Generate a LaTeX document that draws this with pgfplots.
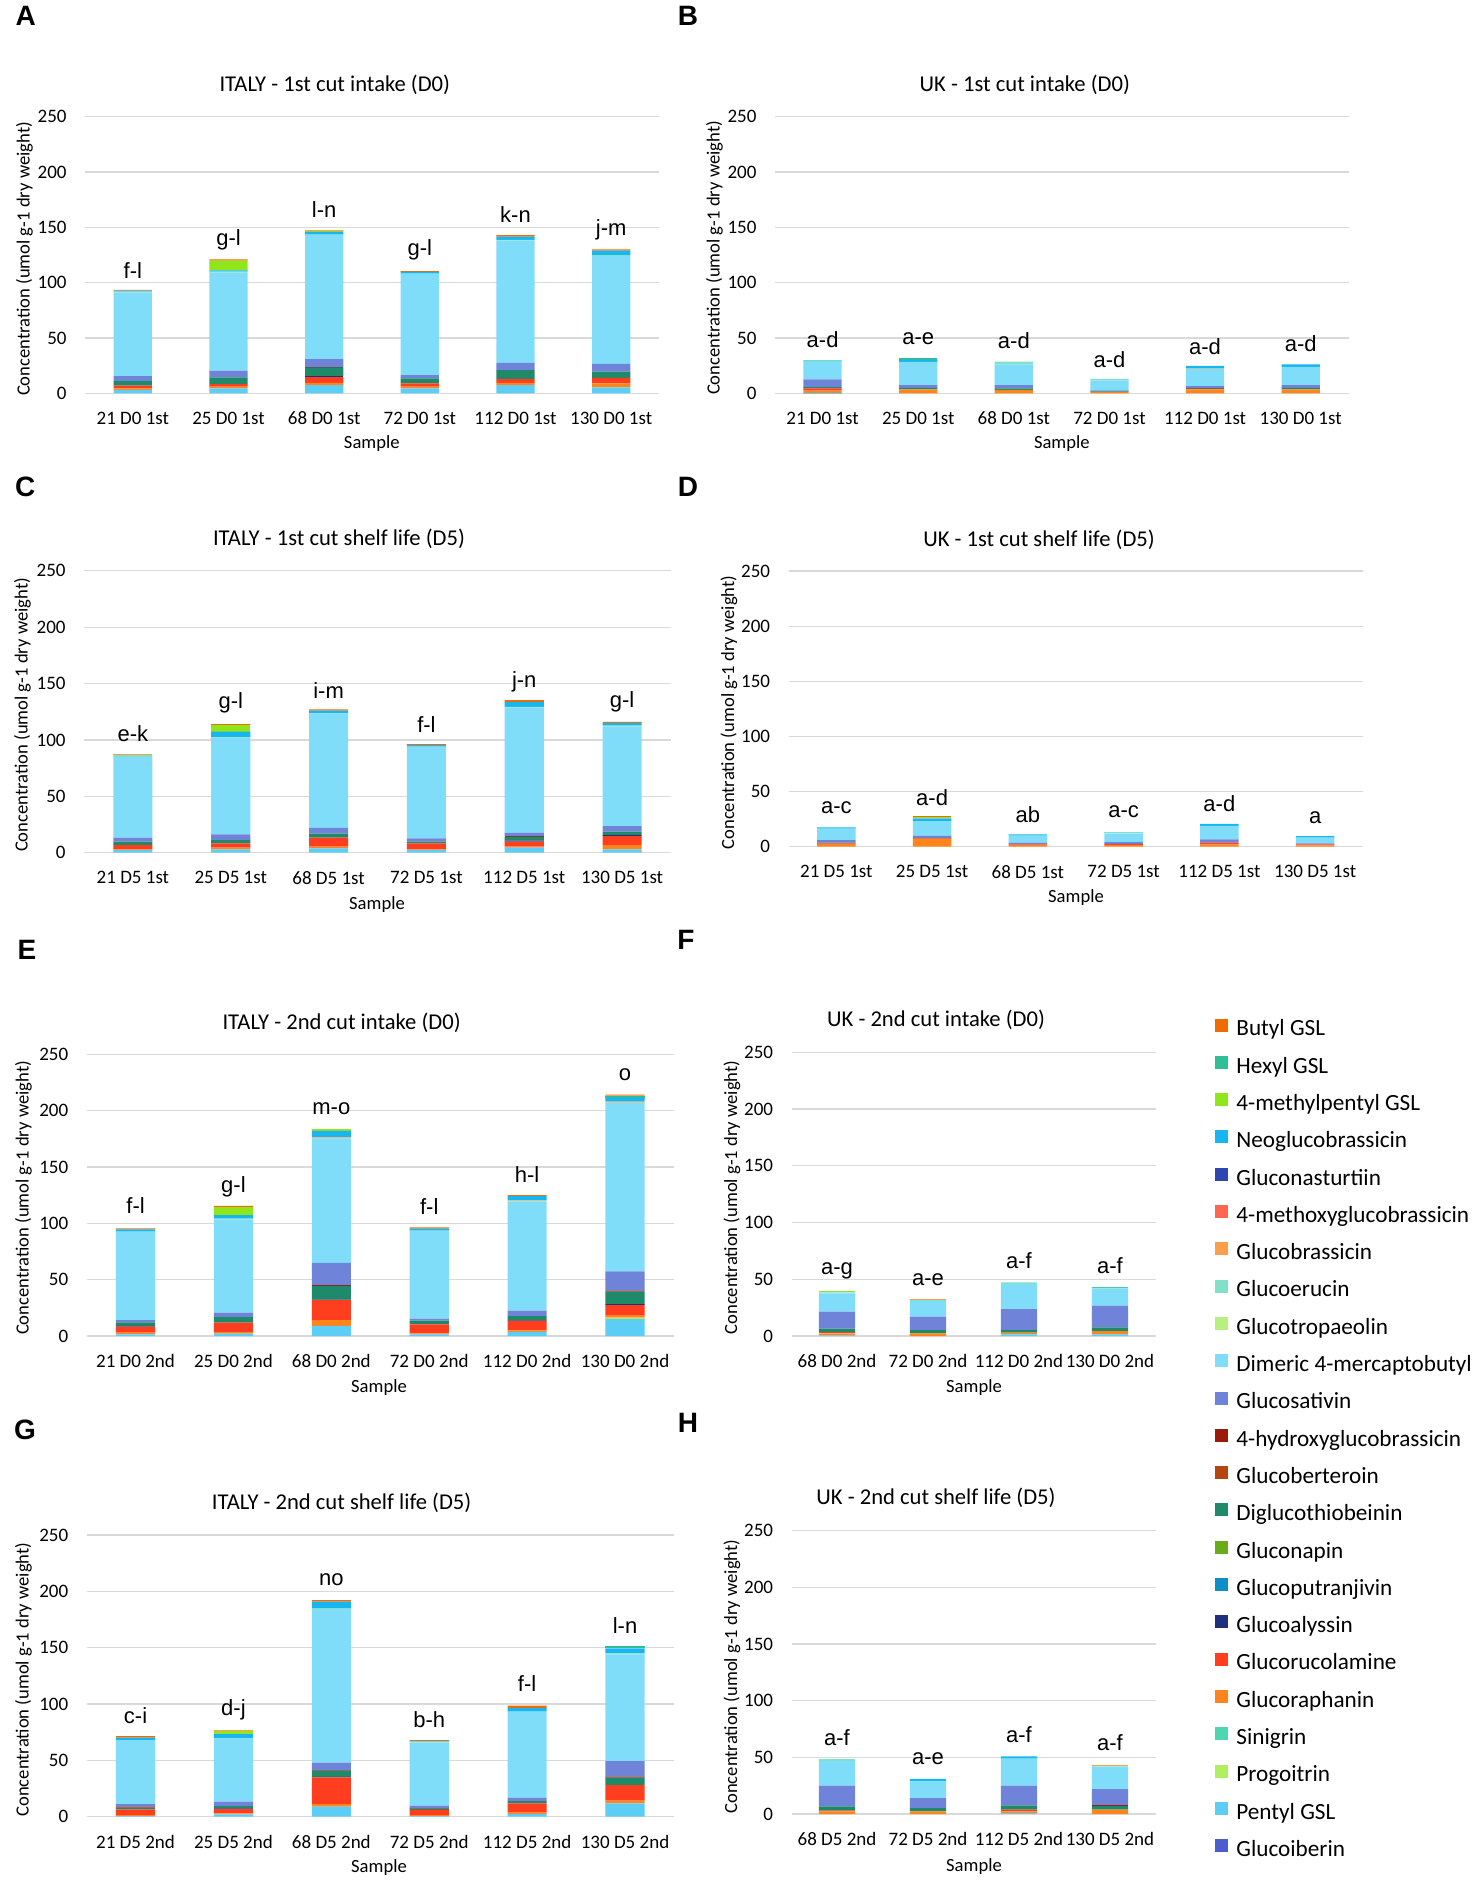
\documentclass[border=0pt]{standalone}
\usepackage{fontspec}
\setmainfont{Carlito}
\newfontfamily\arial{Liberation Sans}
\usepackage{pgfplots}
\usepackage{pgfplotstable}
\pgfplotsset{compat=1.18}

% series colours, in stacking order (bottom first)
\definecolor{cGib}{HTML}{4A5FCF}
\definecolor{cPen}{HTML}{5CCDF5}
\definecolor{cPro}{HTML}{B0F060}
\definecolor{cSin}{HTML}{4FD6B0}
\definecolor{cGrap}{HTML}{FF851A}
\definecolor{cGruc}{HTML}{FF3D1F}
\definecolor{cGaly}{HTML}{1F2F7F}
\definecolor{cGput}{HTML}{0C8FC8}
\definecolor{cGnap}{HTML}{6AAB1A}
\definecolor{cDig}{HTML}{1F8A6A}
\definecolor{cGber}{HTML}{B5460F}
\definecolor{cHyd}{HTML}{9C1A0A}
\definecolor{cGsat}{HTML}{6F84D8}
\definecolor{cDim}{HTML}{80DDFA}
\definecolor{cGtro}{HTML}{B8F080}
\definecolor{cGeru}{HTML}{80E0C8}
\definecolor{cGbra}{HTML}{FF9E4A}
\definecolor{cMth}{HTML}{FF6650}
\definecolor{cGnas}{HTML}{2E47B0}
\definecolor{cNeo}{HTML}{17B6F0}
\definecolor{cMp}{HTML}{8FE61A}
\definecolor{cHex}{HTML}{2EBF94}
\definecolor{cBut}{HTML}{F26B00}
\definecolor{gridc}{HTML}{D9D9D9}

% one table per panel: rows = samples, columns = compounds
\pgfplotstableread[col sep=comma]{
s,Gib,Pen,Pro,Sin,Grap,Gruc,Galy,Gput,Gnap,Dig,Gber,Hyd,Gsat,Dim,Gtro,Geru,Gbra,Mth,Gnas,Neo,Mp,Hex,But
21 D0 1st,0,3,0,0,1.5,2.5,0,0,0,4,0,0,4.5,75.5,0,0.8,0,0,0,1,0,0,0.6
25 D0 1st,0,4.5,0,0,1.5,2.4,0,0,0,6.1,0,0,6,88.5,0,1,0,0,0,1,9,0,1
68 D0 1st,0,7.5,0,0,2,5.2,0.5,0,0,8.3,0,0.5,7,112,0,0.5,0,0,0,2.5,0.7,0,0.5
72 D0 1st,0,4.5,0,0,1.5,3,0,0,0,4.5,0,0,3,91.2,0,0.5,0,0,0,1.5,0,0,0.8
112 D0 1st,0,7.5,0,0,2,3.4,0,0,0,8,0,0,6.7,110.3,0,0.8,0,0,0,3,0,0,1.3
130 D0 1st,0,5.4,0,0,3.6,5,0,0,0,5.6,0,0,6.9,97.5,0,1,0,0,0,4,0,0,1
}\datA
\pgfplotstableread[col sep=comma]{
s,Gib,Pen,Pro,Sin,Grap,Gruc,Galy,Gput,Gnap,Dig,Gber,Hyd,Gsat,Dim,Gtro,Geru,Gbra,Mth,Gnas,Neo,Mp,Hex,But
21 D0 1st,0,0.5,0,0,2,2,0,0,0,1,0,0,7,16,0,1,0,0,0,0.5,0,0,0
25 D0 1st,0,0,0,0,3.6,0,0,0,0,1.4,0,0,2.5,21,0,0,0,0,0,2,0,1.7,0
68 D0 1st,0,0,0,0,3,0,0,0,0,1.5,0,0,3,18.7,0,2.4,0,0,0,0,0,0,0
72 D0 1st,0,0,0,0,1,0,0,0,0,0.8,0,0,0.8,9,0,1.4,0,0,0,0,0,0,0
112 D0 1st,0,0,0,0,3.6,0.5,0,0,0,0.4,0.5,0,1.6,16,0,0,0.5,0,0,1.6,0,0,0
130 D0 1st,0,0,0,0,3.6,0,0,0,0,1.4,0,0,2.5,16.5,0,0,0,0,0,2.2,0,0,0
}\datB
\pgfplotstableread[col sep=comma]{
s,Gib,Pen,Pro,Sin,Grap,Gruc,Galy,Gput,Gnap,Dig,Gber,Hyd,Gsat,Dim,Gtro,Geru,Gbra,Mth,Gnas,Neo,Mp,Hex,But
21 D5 1st,0,2.4,0,0,0.6,3.8,0,0,0,3,0,0,3.5,71.7,0,1.5,1,0,0,0,0,0,0
25 D5 1st,0,3,0,0,1.4,3.9,0,0,0,2.9,0,0,5.1,85.7,0,0.5,0,0,0,4.8,6,0,0.8
68 D5 1st,0,3.8,0,0,1.5,8,0,0,0,3.7,0,0,5,101.5,0,0,0,0,0,2.5,0,0,1
72 D5 1st,0,2.5,0,0,0.5,5.3,0,0,0,1.5,0,0,2.9,81.3,0,0,0,0,0,1.4,0,0,0.9
112 D5 1st,0,4.4,0,0,0.9,4.5,0.9,0,0,3.5,0,0.6,2.9,111.1,0,0.5,0,0,0,4.5,0,0,1.5
130 D5 1st,0,3,0,0,3.8,8,0.8,0,0,3,0,0,5,88.1,0,0.9,0,0,0,2.6,0,0,0.9
}\datC
\pgfplotstableread[col sep=comma]{
s,Gib,Pen,Pro,Sin,Grap,Gruc,Galy,Gput,Gnap,Dig,Gber,Hyd,Gsat,Dim,Gtro,Geru,Gbra,Mth,Gnas,Neo,Mp,Hex,But
21 D5 1st,0,0,0,0,2.4,0.6,0,0,0,0.6,0,0,2.4,10.3,0,0,0,0,0,1.2,0,0,0
25 D5 1st,0,0,0,0,7,0.5,0,0,0,0.5,0,0,2,13.3,0,0,0,0,0,2.4,1,0,1.1
68 D5 1st,0,0,0,0,1.5,0.6,0,0,0,0,0,0,1.5,6.4,0,0,0,0,0,1.2,0,0,0
72 D5 1st,0,0,0,0,1.5,0.9,0,0,0,0,0,0,1.8,7.9,0,1.5,0,0,0,0,0,0,0
112 D5 1st,0,0,0,0,2.1,1.5,0,0,0,0,0,0,3,12.4,0,0,0,0,0,1.6,0,0,0
130 D5 1st,0,0,0,0,1.2,0.9,0,0,0,0,0,0,0.9,5.2,0,0,0,0,0,1.5,0,0,0
}\datD
\pgfplotstableread[col sep=comma]{
s,Gib,Pen,Pro,Sin,Grap,Gruc,Galy,Gput,Gnap,Dig,Gber,Hyd,Gsat,Dim,Gtro,Geru,Gbra,Mth,Gnas,Neo,Mp,Hex,But
21 D0 2nd,0,1.5,0,0,1.5,5.3,0.6,0,0,3.2,0,0,2.1,78.4,0,0,0,0,0,2.1,0,0,0.9
25 D0 2nd,0,2.2,0,0,1.2,8.5,0,0,0,4.8,0,0,4,82.5,0,1,0,0,0,3,7.1,0,1.1
68 D0 2nd,0,8.9,0,0,5.1,17.8,0.5,0,0,12.3,0,0.6,19.7,110.5,0,0,0.8,0,0,5.8,1.7,0,0
72 D0 2nd,0,1.5,0,0,0.9,8,0,0,0,3.3,0,0,1.8,78,0,0,0,0,0,1.8,0,0,1.1
112 D0 2nd,0,3.6,0,0,1.5,8.3,0.5,0,0,3.7,0,0,5,96.6,0,0.9,0.5,0,0,3.6,0,0,0.9
130 D0 2nd,0,15.1,1.2,0,2.3,8.9,0.9,0,0,11,0,0.9,17.1,149.7,0,0,0.9,0,0,3.5,0,1.8,0.9
}\datE
\pgfplotstableread[col sep=comma]{
s,Gib,Pen,Pro,Sin,Grap,Gruc,Galy,Gput,Gnap,Dig,Gber,Hyd,Gsat,Dim,Gtro,Geru,Gbra,Mth,Gnas,Neo,Mp,Hex,But
68 D0 2nd,0,0.5,0,0,1.9,0.8,0,0,0,3.3,0,0,14.9,16.2,0,0.8,0,0,0,0,1.6,0,0
72 D0 2nd,0,0,0,0,2.4,0,0,0,0,2.9,0,0,11.7,13.8,0,0.8,0.7,0,0,0,0,0,0
112 D0 2nd,0,1.5,0,0,1.4,0,0,0,0,2.4,0,0,18.5,22,0,1.5,0,0,0,0,0,0,0
130 D0 2nd,0,1.5,0,0,2.9,0,0,0,0,3.2,0,0,19.1,15,0,0.9,0,0,0,0,0,0.9,0
}\datF
\pgfplotstableread[col sep=comma]{
s,Gib,Pen,Pro,Sin,Grap,Gruc,Galy,Gput,Gnap,Dig,Gber,Hyd,Gsat,Dim,Gtro,Geru,Gbra,Mth,Gnas,Neo,Mp,Hex,But
21 D5 2nd,0,0.5,0,0,1,5,0,0,0,1.5,0,0.9,2.3,56.8,0,0,0,0,0,2.1,0,0,1.5
25 D5 2nd,0,2,0,0,1,3.8,0.6,0,0,2.1,0,0,3.8,56.2,0,0,0,0,0,3.9,2.9,0,0.6
68 D5 2nd,0,8.9,0,0,2.3,23.7,0.5,0,0,5.4,0,0.5,6.6,136.4,0,0.9,0,0,0,5.6,0,0,1.5
72 D5 2nd,0,0.5,0,0,1,4.4,0,0,0,1,0,0.5,2.4,55.9,0,0.9,0,0,0,0.7,0,0,0.7
112 D5 2nd,0,2.4,0,0,1.2,8.2,0,0,0,2.1,0,0,3,76.3,0,0,0,0,0,3.5,0,0,1.8
130 D5 2nd,0,11.8,0,0,2.4,13.9,0,0,0,6.5,0,0.9,13.9,94.7,0,0.9,0,0,0,4.4,0,2.1,0
}\datG
\pgfplotstableread[col sep=comma]{
s,Gib,Pen,Pro,Sin,Grap,Gruc,Galy,Gput,Gnap,Dig,Gber,Hyd,Gsat,Dim,Gtro,Geru,Gbra,Mth,Gnas,Neo,Mp,Hex,But
68 D5 2nd,0,0,0,0,2.4,0.5,0,0,0,3.9,0,0,18.2,22,0,1.5,0,0,0,0,0,0,0
72 D5 2nd,0,0,0,0,2.4,0,0,0,0,2.9,0,0,8.8,14.7,0,0,0,0,0,2.3,0,0,0
112 D5 2nd,0,0.9,0,0,1.5,1.4,0,0,0,3.8,0,0,17.4,23.8,0,0,0,0,0,2,0,0,0
130 D5 2nd,0,0,0,0,3.8,0,0,0,0,3.2,0,0.6,14.4,19.4,0,0.7,0.8,0,0,0,0,0,0
}\datH

\newcommand\stacks[1]{%
  \pgfplotsinvokeforeach{Gib,Pen,Pro,Sin,Grap,Gruc,Galy,Gput,Gnap,Dig,Gber,Hyd,Gsat,Dim,Gtro,Geru,Gbra,Mth,Gnas,Neo,Mp,Hex,But}{%
    \addplot[fill=c##1, draw=none] table[x expr=\coordindex, y=##1] {#1};
  }}

\pgfplotsset{panel/.style={
  scale only axis, anchor=south west,
  ybar stacked, bar width=0.4,
  ymin=0, ymax=250, ytick={0,50,...,250},
  enlargelimits=false, clip=false,
  axis line style={draw=none}, major tick length=0pt,
  ymajorgrids, grid style={draw=gridc, line width=0.6pt},
  tick label style={font=\fontsize{9.5}{11}\selectfont},
  yticklabel style={anchor=east, inner sep=0pt, xshift=-9pt},
  xticklabel style={anchor=center, inner sep=0pt, yshift=-12.5pt},
  /pgf/number format/assume math mode=true,
}}

\tikzset{
  ttl/.style={font=\fontsize{11.3}{13}\selectfont, inner sep=0pt},
  lab/.style={font=\fontsize{9.3}{11}\selectfont, inner sep=0pt},
  pl/.style={font=\arial\bfseries\fontsize{14}{16}\selectfont, inner sep=0pt},
  sig/.style={font=\arial\fontsize{11}{13}\selectfont, inner sep=0pt},
}

\begin{document}
\begin{tikzpicture}[x=0.5pt, y=-0.5pt]
\path[use as bounding box] (0,0) rectangle (1476,1880);

% A
\begin{axis}[panel, at={(42.5pt,-196.65pt)}, width=287pt, height=138.3pt,
  xmin=-0.5, xmax=5.5, xtick={0,...,5}, xticklabels from table={\datA}{s}]
  \stacks{\datA}
  \node[sig] at (axis cs:0,111.4) {f-l};
  \node[sig] at (axis cs:1,138.6) {g-l};
  \node[sig] at (axis cs:2,165.7) {l-n};
  \node[sig] at (axis cs:3,129.5) {g-l};
  \node[sig] at (axis cs:4,161.7) {k-n};
  \node[sig] at (axis cs:5,147.6) {j-m};
\end{axis}
% B
\begin{axis}[panel, at={(387.4pt,-196.65pt)}, width=286.85pt, height=138.3pt,
  xmin=-0.5, xmax=5.5, xtick={0,...,5}, xticklabels from table={\datB}{s}]
  \stacks{\datB}
  \node[sig] at (axis cs:0,48.2) {a-d};
  \node[sig] at (axis cs:1,49.7) {a-e};
  \node[sig] at (axis cs:2,47.6) {a-d};
  \node[sig] at (axis cs:3,30.7) {a-d};
  \node[sig] at (axis cs:4,42.2) {a-d};
  \node[sig] at (axis cs:5,45.2) {a-d};
\end{axis}
% C
\begin{axis}[panel, at={(42pt,-426.35pt)}, width=293.5pt, height=141pt,
  xmin=-0.5, xmax=5.5, xtick={0,...,5}, xticklabels from table={\datC}{s}]
  \stacks{\datC}
  \node[sig] at (axis cs:0,105.8) {e-k};
  \node[sig] at (axis cs:1,133) {g-l};
  \node[sig] at (axis cs:2,144.2) {i-m};
  \node[sig] at (axis cs:3,113.8) {f-l};
  \node[sig] at (axis cs:4,151.6) {j-n};
  \node[sig] at (axis cs:5,133.9) {g-l};
\end{axis}
% D
\begin{axis}[panel, at={(394.25pt,-423.35pt)}, width=287.25pt, height=137.85pt,
  xmin=-0.5, xmax=5.5, xtick={0,...,5}, xticklabels from table={\datD}{s}]
  \stacks{\datD}
  \node[sig] at (axis cs:0,35.7) {a-c};
  \node[sig] at (axis cs:1,44.7) {a-d};
  \node[sig] at (axis cs:2,28.7) {ab};
  \node[sig] at (axis cs:3,31.7) {a-c};
  \node[sig] at (axis cs:4,38.7) {a-d};
  \node[sig] at (axis cs:5,26.6) {a};
\end{axis}
% E
\begin{axis}[panel, at={(43.3pt,-668pt)}, width=293.7pt, height=140.85pt,
  xmin=-0.5, xmax=5.5, xtick={0,...,5}, xticklabels from table={\datE}{s}]
  \stacks{\datE}
  \node[sig] at (axis cs:0,115.4) {f-l};
  \node[sig] at (axis cs:1,132.5) {g-l};
  \node[sig] at (axis cs:2,202) {m-o};
  \node[sig] at (axis cs:3,114.8) {f-l};
  \node[sig] at (axis cs:4,142.9) {h-l};
  \node[sig] at (axis cs:5,231.7) {o};
\end{axis}
% F, carries the legend
\begin{axis}[panel, at={(395.75pt,-668pt)}, width=182pt, height=141.85pt,
  xmin=-0.5, xmax=3.5, xtick={0,...,3}, xticklabels from table={\datF}{s},
  legend style={at={(1.1635,1.1205)}, anchor=north west, draw=none, fill=none,
    inner sep=0pt, row sep=7.5pt, column sep=4pt,
    font=\fontsize{11.6}{13}\selectfont,
    nodes={inner sep=0pt, text height=8pt, text depth=2.5pt}},
  legend cell align=left, reverse legend,
  legend image code/.code={\fill[#1] (0pt,-0.6pt) rectangle (6.5pt,5.9pt);}]
  \stacks{\datF}
  \node[sig] at (axis cs:0,57.6) {a-g};
  \node[sig] at (axis cs:1,49.4) {a-e};
  \node[sig] at (axis cs:2,66.4) {a-f};
  \node[sig] at (axis cs:3,62) {a-f};
  \legend{Glucoiberin, Pentyl GSL, Progoitrin, Sinigrin, Glucoraphanin,
    Glucorucolamine, Glucoalyssin, Glucoputranjivin, Gluconapin,
    Diglucothiobeinin, Glucoberteroin, 4-hydroxyglucobrassicin, Glucosativin,
    Dimeric 4-mercaptobutyl, Glucotropaeolin, Glucoerucin, Glucobrassicin,
    4-methoxyglucobrassicin, Gluconasturtiin, Neoglucobrassicin,
    4-methylpentyl GSL, Hexyl GSL, Butyl GSL}
\end{axis}
% G
\begin{axis}[panel, at={(43.3pt,-908.35pt)}, width=293.7pt, height=140.85pt,
  xmin=-0.5, xmax=5.5, xtick={0,...,5}, xticklabels from table={\datG}{s}]
  \stacks{\datG}
  \node[sig] at (axis cs:0,89.3) {c-i};
  \node[sig] at (axis cs:1,94.7) {d-j};
  \node[sig] at (axis cs:2,210) {no};
  \node[sig] at (axis cs:3,85.8) {b-h};
  \node[sig] at (axis cs:4,117.8) {f-l};
  \node[sig] at (axis cs:5,170) {l-n};
\end{axis}
% H
\begin{axis}[panel, at={(395.75pt,-907pt)}, width=182pt, height=141.65pt,
  xmin=-0.5, xmax=3.5, xtick={0,...,3}, xticklabels from table={\datH}{s}]
  \stacks{\datH}
  \node[sig] at (axis cs:0,67) {a-f};
  \node[sig] at (axis cs:1,48.5) {a-e};
  \node[sig] at (axis cs:2,69.9) {a-f};
  \node[sig] at (axis cs:3,62.6) {a-f};
\end{axis}

% panel letters
\node[pl] at (25.7,15.7) {A};
\node[pl] at (688,15.7) {B};
\node[pl] at (25.2,486.7) {C};
\node[pl] at (688,487) {D};
\node[pl] at (27,950) {E};
\node[pl] at (686,940) {F};
\node[pl] at (25,1430) {G};
\node[pl] at (688,1423) {H};

% chart titles
\node[ttl] at (334.8,85) {ITALY - 1st cut intake (D0)};
\node[ttl] at (1024.8,85) {UK - 1st cut intake (D0)};
\node[ttl] at (339,539) {ITALY - 1st cut shelf life (D5)};
\node[ttl] at (1039,540) {UK - 1st cut shelf life (D5)};
\node[ttl] at (341.6,1022.7) {ITALY - 2nd cut intake (D0)};
\node[ttl] at (936,1020) {UK - 2nd cut intake (D0)};
\node[ttl] at (341.6,1503) {ITALY - 2nd cut shelf life (D5)};
\node[ttl] at (936,1498) {UK - 2nd cut shelf life (D5)};

% x axis titles
\node[lab] at (371.8,444) {Sample};
\node[lab] at (1061.8,444) {Sample};
\node[lab] at (377,905) {Sample};
\node[lab] at (1076,898) {Sample};
\node[lab] at (379,1388) {Sample};
\node[lab] at (974,1388) {Sample};
\node[lab] at (379,1868) {Sample};
\node[lab] at (974,1867) {Sample};

% y axis titles
\node[lab, rotate=90] at (24.5,259) {Concentration (umol g-1 dry weight)};
\node[lab, rotate=90] at (714.5,258) {Concentration (umol g-1 dry weight)};
\node[lab, rotate=90] at (22.3,715) {Concentration (umol g-1 dry weight)};
\node[lab, rotate=90] at (729,712.5) {Concentration (umol g-1 dry weight)};
\node[lab, rotate=90] at (23.5,1198) {Concentration (umol g-1 dry weight)};
\node[lab, rotate=90] at (732,1197.5) {Concentration (umol g-1 dry weight)};
\node[lab, rotate=90] at (23.5,1679.5) {Concentration (umol g-1 dry weight)};
\node[lab, rotate=90] at (732,1676.5) {Concentration (umol g-1 dry weight)};
\end{tikzpicture}
\end{document}
